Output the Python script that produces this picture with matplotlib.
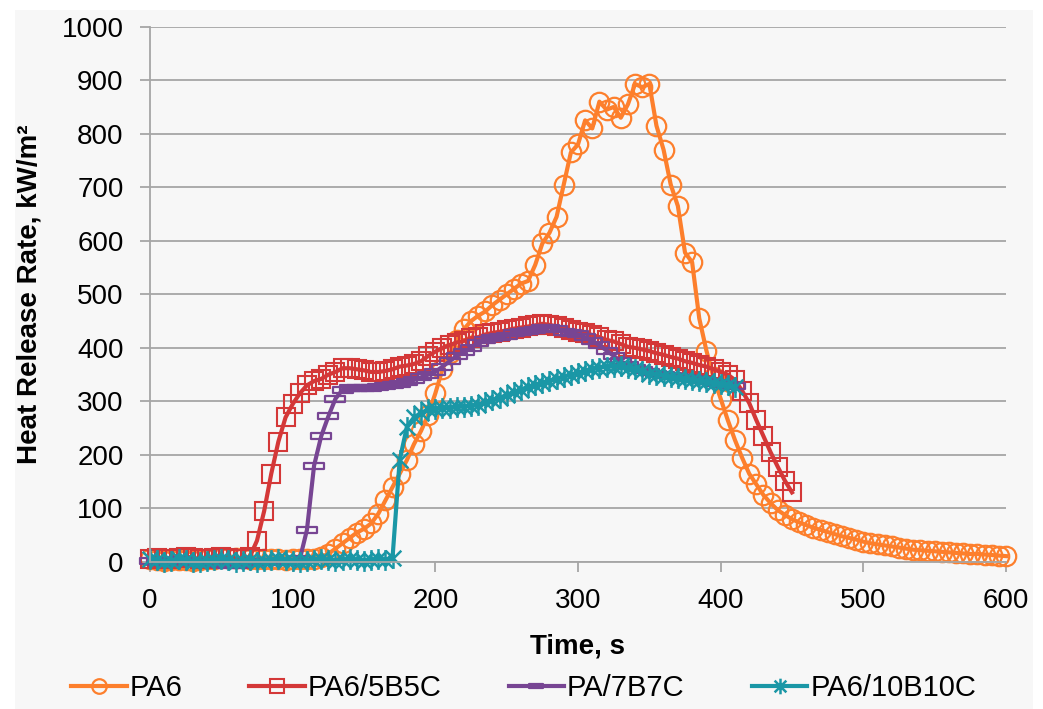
import numpy as np
import matplotlib
matplotlib.use("Agg")
import matplotlib.pyplot as plt
from matplotlib.patches import Rectangle
from matplotlib.path import Path

plt.rcParams['font.family'] = ['Liberation Sans', 'DejaVu Sans']

# time grid (s), 5 s sampling
t_pa6 = np.arange(0, 605, 5)
t_5b5c = np.arange(0, 455, 5)
t_7b7c = np.arange(0, 415, 5)
t_10b10c = np.arange(0, 415, 5)

pa6 = [5, 3, 2, 3, 4, 3, 2, 3, 5, 6, 7, 8, 8, 7, 6, 5, 5, 6, 5, 4, 5, 6, 5, 6,
       10, 15, 25, 35, 45, 55, 62, 72, 90, 115, 140, 165, 190, 220, 245, 275,
       315, 360, 390, 415, 435, 450, 460, 468, 480, 490, 500, 510, 520, 525,
       555, 595, 615, 645, 705, 765, 780, 825, 810, 860, 845, 850, 830, 855,
       893, 887, 893, 815, 770, 705, 665, 578, 560, 455, 395, 345,
       305, 265, 228, 195, 165, 145, 125, 110, 97, 88, 80, 74, 69, 64, 60, 56,
       52, 48, 45, 42, 38, 35, 33, 31, 29, 27, 25, 23, 22, 21, 20, 19, 18, 17,
       16, 15, 15, 14, 13, 12, 11]

pa6_5b5c = [5, 8, 6, 5, 8, 10, 8, 5, 5, 8, 10, 8, 6, 5, 10,
            40, 95, 165, 225, 270, 295, 315, 330, 338, 342, 350, 355, 362, 362,
            360, 358, 355, 355, 357, 360, 365, 367, 370, 375, 385, 393, 400, 405,
            410, 413, 418, 420, 425, 428, 430, 433, 436, 438, 440, 442, 445, 443,
            440, 437, 433, 430, 428, 424, 420, 415, 412, 407, 402, 400, 397, 394,
            390, 387, 383, 380, 375, 372, 368, 365, 360, 355, 350, 340, 320, 297,
            265, 235, 205, 178, 152, 130]

pa_7b7c = [2, 0, 0, 2, 3, 2, 0, 0, 0, 0, -3, -5, -5, -3, 0, 0, 0, 0, 0, 0, 0, 5,
           60, 180, 235, 272, 305, 322, 325, 325, 325, 325, 327, 328, 330, 333,
           337, 340, 345, 350, 355, 365, 375, 385, 392, 400, 410, 415, 418, 420,
           423, 428, 430, 432, 433, 437, 438, 435, 430, 428, 425, 420, 413, 405,
           395, 385, 375, 368, 362, 358, 355, 352, 350, 348, 345, 343, 342, 340,
           338, 335, 333, 330, 328]

pa6_10b10c = [5, 3, 0, 2, 5, 3, 0, 0, 2, 3, 5, 3, 0, 2, 3, 0, 2, 3, 5, 3, 2, 0,
              2, 3, 5, 3, 2, 3, 5, 3, 2, 3, 5, 3, 8,
              190, 252, 270, 278, 285, 285, 288, 287, 290, 290, 292, 293, 298,
              302, 306, 312, 317, 322, 327, 330, 335, 338, 342, 346, 350, 353,
              356, 360, 363, 365, 365, 366, 362, 360, 356, 352, 350, 348, 345,
              343, 341, 340, 338, 336, 334, 332, 330, 327]

# custom markers: flat dash box and excel-like star
dash_marker = Path([(-1, -0.3), (1, -0.3), (1, 0.3), (-1, 0.3), (-1, -0.3)],
                   [Path.MOVETO, Path.LINETO, Path.LINETO, Path.LINETO, Path.CLOSEPOLY])
star_marker = Path([(0, -1), (0, 1), (-0.75, -0.75), (0.75, 0.75), (-0.75, 0.75), (0.75, -0.75)],
                   [Path.MOVETO, Path.LINETO, Path.MOVETO, Path.LINETO, Path.MOVETO, Path.LINETO])

fig = plt.figure(figsize=(10.43, 7.09), dpi=100)
fig.patches.append(Rectangle((15 / 1043, 0), (1033 - 15) / 1043, 1 - 10 / 709,
                             transform=fig.transFigure, facecolor='#f7f7f7',
                             edgecolor='none', zorder=-10))
ax = fig.add_axes([150 / 1043, 1 - 562 / 709, (1006 - 150) / 1043, (562 - 26.7) / 709])
ax.set_facecolor('none')

ax.plot(t_pa6, pa6, '-', color='#fd7f2c', lw=3, marker='o', ms=14, mfc='none',
        mew=1.6, label='PA6', clip_on=False)
ax.plot(t_5b5c, pa6_5b5c, '-', color='#d43838', lw=3, marker='s', ms=13.5, mfc='none',
        mew=1.5, label='PA6/5B5C', clip_on=False)
ax.plot(t_7b7c, pa_7b7c, '-', color='#774593', lw=3, marker=dash_marker, ms=14,
        mfc='none', mew=1.6, label='PA/7B7C', clip_on=False)
ax.plot(t_10b10c, pa6_10b10c, '-', color='#1a97a6', lw=3, marker=star_marker, ms=15,
        mew=1.8, label='PA6/10B10C', clip_on=False)

ax.set_xlim(0, 600)
ax.set_ylim(0, 1000)
ax.set_xticks(range(0, 601, 100))
ax.set_yticks(range(0, 1001, 100))
ax.yaxis.grid(True, color='#a6a6a6', lw=1.3)
ax.set_axisbelow(True)
for s in ['top', 'right']:
    ax.spines[s].set_visible(False)
for s in ['left', 'bottom']:
    ax.spines[s].set_color('#a6a6a6')
    ax.spines[s].set_linewidth(1.3)
ax.tick_params(axis='both', direction='out', length=7, width=1.3, color='#a6a6a6',
               labelsize=20, pad=12)

ax.set_xlabel('Time, s', fontsize=20, fontweight='bold', labelpad=14)
ax.set_ylabel('Heat Release Rate, kW/m²', fontsize=20, fontweight='bold', labelpad=14)

fig.legend(loc='center', bbox_to_anchor=(0.502, 0.03), ncol=4, frameon=False,
           fontsize=21, handlelength=1.9, handletextpad=0.1, columnspacing=2.3,
           markerscale=0.75)

fig.savefig('out.png', dpi=100)
